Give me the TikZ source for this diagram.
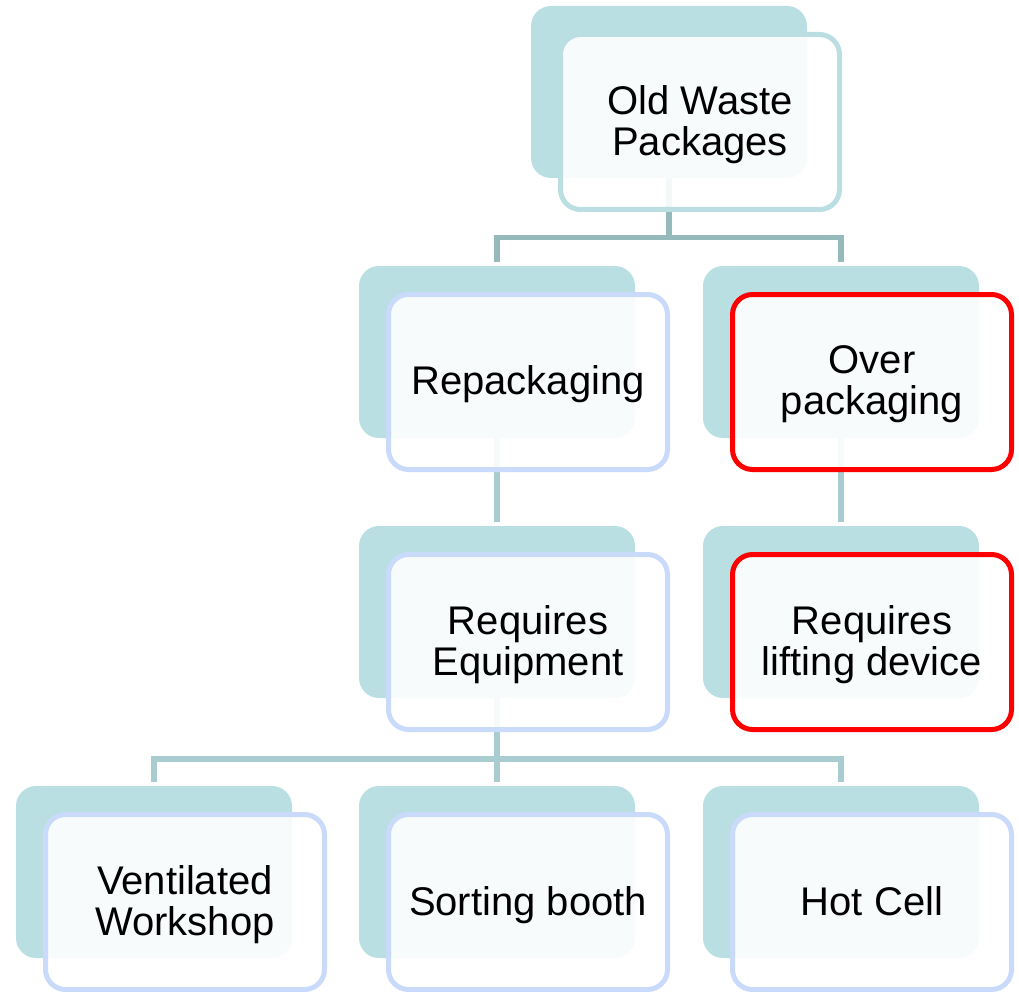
\documentclass[tikz,border=0pt]{standalone}
\usepackage{fontspec}
\setmainfont{Liberation Sans}
\definecolor{backteal}{RGB}{186,223,226}
\definecolor{topborder}{RGB}{186,222,226}
\definecolor{blueborder}{RGB}{201,218,251}
\definecolor{redborder}{RGB}{255,0,0}
\definecolor{conntop}{RGB}{150,185,188}
\definecolor{connlow}{RGB}{168,204,207}
\tikzset{
  backbox/.style={fill=backteal, draw=none, rounded corners=20pt, minimum width=276pt, minimum height=172pt, inner sep=0pt, outer sep=0pt},
  frontbox/.style={fill=white, fill opacity=0.9, line width=5pt, rounded corners=20pt, minimum width=279pt, minimum height=175pt, inner sep=0pt, outer sep=0pt},
  frontteal/.style={frontbox, draw=topborder},
  frontblue/.style={frontbox, draw=blueborder},
  frontred/.style={frontbox, draw=redborder},
  conn/.style={line width=5.5pt, draw=connlow},
  conntopline/.style={line width=5.5pt, draw=conntop},
  txt/.style={inner sep=0pt, outer sep=0pt, align=center, font=\fontsize{40pt}{40.5pt}\selectfont},
  oneline/.style={txt, anchor=base},
  twoline/.style={txt, anchor=north}
}
\begin{document}
\begin{tikzpicture}[x=1pt,y=-1pt]
\useasboundingbox (0,0) rectangle (1019,992);
% back boxes
\node[backbox] (b0) at (669,92) {};
\node[backbox] (b21) at (497,352) {};
\node[backbox] (b22) at (841,352) {};
\node[backbox] (b31) at (497,612) {};
\node[backbox] (b32) at (841,612) {};
\node[backbox] (b41) at (154,872) {};
\node[backbox] (b42) at (497,872) {};
\node[backbox] (b43) at (841,872) {};
% connectors
\coordinate (h1) at (669,237.5);
\coordinate (h3) at (497,759);
\draw[conntopline] (b0.south) -- (h1);
\draw[conntopline] ([yshift=4pt]b21.north) |- (h1) -| ([yshift=4pt]b22.north);
\draw[conn] (b21.south) -- ([yshift=4pt]b31.north);
\draw[conn] (b22.south) -- ([yshift=4pt]b32.north);
\draw[conn] (b31.south) -- (h3);
\draw[conn] ([yshift=4pt]b41.north) |- (h3) -| ([yshift=4pt]b43.north);
\draw[conn] (h3) -- ([yshift=4pt]b42.north);
% front boxes
\node[frontteal] (f0) at (700,122) {};
\node[frontblue] (f21) at (528,382) {};
\node[frontred] (f22) at (872,382) {};
\node[frontblue] (f31) at (528,642) {};
\node[frontred] (f32) at (872,642) {};
\node[frontblue] (f41) at (185,902) {};
\node[frontblue] (f42) at (528,902) {};
\node[frontblue] (f43) at (872,902) {};
% texts
\node[twoline] (t0) at ([yshift=36pt]f0.center) {Old Waste\\Packages};
\node[oneline] (t21) at ([yshift=-12.5pt]f21.center) {Repackaging};
\node[twoline] (t22) at ([yshift=36pt]f22.center) {Over\\packaging};
\node[twoline] (t31) at ([yshift=36pt]f31.center) {Requires\\Equipment};
\node[twoline] (t32) at ([yshift=36pt]f32.center) {Requires\\lifting device};
\node[twoline] (t41) at ([yshift=36pt]f41.center) {Ventilated\\Workshop};
\node[oneline] (t42) at ([yshift=-13.5pt]f42.center) {Sorting booth};
\node[oneline] (t43) at ([yshift=-13.5pt]f43.center) {Hot Cell};
\end{tikzpicture}
\end{document}
